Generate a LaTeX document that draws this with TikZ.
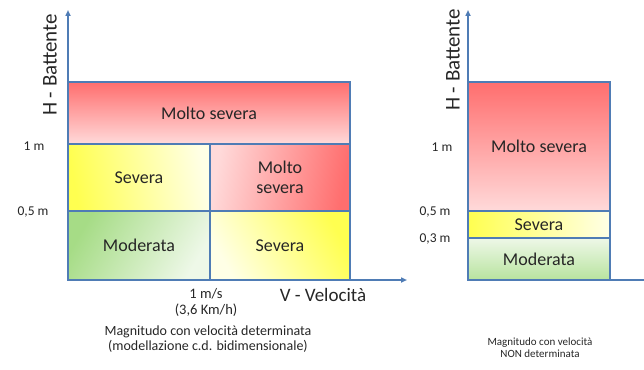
\documentclass[tikz,border=0pt]{standalone}
\usepackage{fontspec}
\setmainfont{Carlito}
\usetikzlibrary{arrows.meta}
\definecolor{axisblue}{HTML}{4F7CB5}
\definecolor{redc}{HTML}{FF6E6E}
\definecolor{pinkc}{HTML}{FFDADA}
\definecolor{yelc}{HTML}{FFFF50}
\definecolor{paley}{HTML}{FFFFE6}
\definecolor{greenc}{HTML}{A6DC86}
\definecolor{paleg}{HTML}{EEF8E8}
\definecolor{txt}{HTML}{262626}
\tikzset{
  cell/.style={draw=axisblue, line width=2pt, rectangle, inner sep=0pt, text=txt, font=\fontsize{18}{20}\selectfont, align=center},
  axisline/.style={draw=axisblue, line width=1.8pt, -{Triangle[length=6pt,width=5pt]}},
  tick/.style={text=txt, font=\fontsize{13.5}{15}\selectfont, anchor=center},
  axlab/.style={text=txt, font=\fontsize{21}{23}\selectfont},
  capt/.style={text=txt, align=center}
}
\begin{document}
\begin{tikzpicture}[x=1pt,y=-1pt]
\useasboundingbox (0,0) rectangle (644,369);
% left chart cells
\node[cell, minimum width=282pt, minimum height=62pt, shading=axis, top color=redc, bottom color=pinkc] (ms1) at (209,113) {Molto severa};
\node[cell, minimum width=142pt, minimum height=67pt, shading=axis, left color=yelc, right color=paley, shading angle=100] (sv1) at (139,177.5) {Severa};
\node[cell, minimum width=140pt, minimum height=67pt, shading=axis, left color=pinkc, right color=redc, shading angle=80] (ms2) at (280,177.5) {Molto\\severa};
\node[cell, minimum width=142pt, minimum height=69pt, shading=axis, left color=greenc, right color=paleg, shading angle=60] (md1) at (139,245.5) {Moderata};
\node[cell, minimum width=140pt, minimum height=69pt, shading=axis, left color=paley, right color=yelc, shading angle=120] (sv2) at (280,245.5) {Severa};
% left axes
\coordinate (o1) at (68,280);
\coordinate (yt1) at (68,10);
\coordinate (xt1) at (407,280);
\draw[axisline] (o1) -- (yt1);
\draw[axisline] (o1) -- (xt1);
\node[axlab, rotate=90] (hb1) at (50,65) {H - Battente};
\node[tick] (t1m) at (34,146) {1 m};
\node[tick] (t05) at (33,212) {0,5 m};
\node[tick, align=center, font=\fontsize{14.5}{16}\selectfont] (t1ms) at (206,302) {1 m/s\\(3,6 Km/h)};
\node[axlab, font=\fontsize{19}{21}\selectfont] (vv) at (323,295) {V - Velocità};
\node[capt, font=\fontsize{14}{14.5}\selectfont] (c1) at (208,339) {Magnitudo con velocità determinata\\(modellazione c.d. bidimensionale)};
% right chart cells
\node[cell, minimum width=142pt, minimum height=129pt, shading=axis, top color=redc, bottom color=pinkc] (ms3) at (539,146.5) {Molto severa};
\node[cell, minimum width=142pt, minimum height=27pt, shading=axis, left color=yelc, right color=paley] (sv3) at (539,224.5) {Severa};
\node[cell, minimum width=142pt, minimum height=42pt, shading=axis, top color=paleg, bottom color=greenc!80!white] (md3) at (539,259) {Moderata};
% right axes
\coordinate (o2) at (468,280);
\coordinate (yt2) at (468,10);
\coordinate (xt2) at (644,280);
\draw[axisline] (o2) -- (yt2);
\draw[draw=axisblue, line width=1.8pt] (o2) -- (xt2);
\node[axlab, rotate=90] (hb2) at (453,60) {H - Battente};
\node[tick] (r1m) at (442,147) {1 m};
\node[tick] (r05) at (435,212) {0,5 m};
\node[tick] (r03) at (435,239) {0,3 m};
\node[capt, font=\fontsize{11}{12.5}\selectfont] (c2) at (540,347.5) {Magnitudo con velocità\\NON determinata};
\end{tikzpicture}
\end{document}
